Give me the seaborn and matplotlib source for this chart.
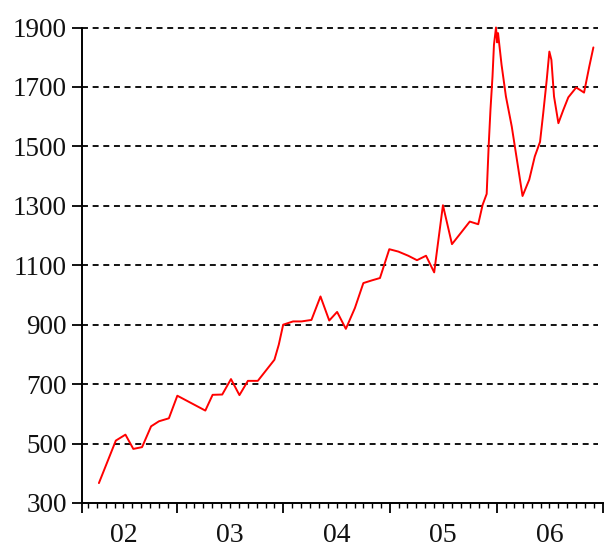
import matplotlib
matplotlib.use("Agg")
import matplotlib.pyplot as plt
import matplotlib.dates as mdates
from matplotlib.ticker import FixedLocator, FuncFormatter, NullFormatter
import seaborn as sns
import pandas as pd

dates = [
    "2002-04-08", "2002-06-05", "2002-07-08", "2002-08-04", "2002-09-03", "2002-10-04",
    "2002-10-31", "2002-12-04", "2003-01-02", "2003-04-08", "2003-05-03", "2003-06-05",
    "2003-07-05", "2003-08-03", "2003-09-01", "2003-10-05", "2003-12-01", "2003-12-16",
    "2003-12-31", "2004-02-03", "2004-03-03", "2004-04-06", "2004-05-07", "2004-06-06",
    "2004-07-03", "2004-08-02", "2004-09-02", "2004-10-01", "2004-10-30", "2004-11-27",
    "2004-12-29", "2005-01-29", "2005-03-04", "2005-04-03", "2005-05-04", "2005-06-01",
    "2005-06-11", "2005-07-01", "2005-08-01", "2005-09-03", "2005-10-01", "2005-10-30",
    "2005-11-14", "2005-11-28", "2005-12-05", "2005-12-11", "2005-12-18", "2005-12-23",
    "2005-12-30", "2006-01-03", "2006-01-06", "2006-01-18", "2006-02-02", "2006-02-22",
    "2006-03-10", "2006-03-31", "2006-04-23", "2006-05-12", "2006-05-30", "2006-06-10",
    "2006-06-22", "2006-07-01", "2006-07-08", "2006-07-17", "2006-08-01", "2006-08-18",
    "2006-09-04", "2006-10-01", "2006-10-14", "2006-10-28", "2006-11-15", "2006-11-29",
]
values = [
    367, 510, 530, 482, 488, 558,
    575, 585, 661, 611, 664, 665,
    717, 663, 711, 711, 782, 833,
    900, 911, 911, 916, 995, 914,
    943, 886, 956, 1040, 1049, 1057,
    1154, 1146, 1132, 1117, 1132, 1076,
    1152, 1302, 1171, 1212, 1247, 1238,
    1303, 1340, 1505, 1623, 1735, 1842,
    1900, 1850, 1881, 1775, 1668, 1567,
    1466, 1333, 1388, 1466, 1515, 1612,
    1724, 1819, 1791, 1668, 1578, 1623,
    1665, 1698, 1690, 1681, 1769, 1833,
]
y_ticks = [300, 500, 700, 900, 1100, 1300, 1500, 1700, 1900]
year_labels = {2002: "02", 2003: "03", 2004: "04", 2005: "05", 2006: "06"}

sns.set_style("ticks")
plt.rcParams['font.family'] = ['Liberation Serif', 'DejaVu Serif']

df = pd.DataFrame({"date": pd.to_datetime(dates), "value": values})

fig = plt.figure(figsize=(6.09, 5.47), dpi=100)
fig.patch.set_facecolor("white")
left, right, bottom, top = 82 / 609, 603 / 609, 1 - 503 / 547, 1 - 27.5 / 547
ax = fig.add_axes([left, bottom, right - left, top - bottom])
ax.set_facecolor("white")

# dashed horizontal grid
for v in y_ticks[1:]:
    ax.axhline(v, xmin=0, xmax=0.99, color="black", lw=1.3,
               ls=(0, (3.3, 2.6)), zorder=1, clip_on=False)

sns.lineplot(data=df, x="date", y="value", ax=ax, color="#ff0000",
             linewidth=1.4, zorder=3, clip_on=False)

x0 = pd.Timestamp("2002-02-09")
x1 = pd.Timestamp("2007-01-01")
ax.set_xlim(x0, x1)
ax.set_ylim(300, 1900)
ax.set_yticks(y_ticks)
ax.set_xlabel("")
ax.set_ylabel("")

# x ticks: major at year boundaries (plus axis start), minor monthly
major_locs = [mdates.date2num(x0)] + [mdates.date2num(pd.Timestamp(f"{y}-01-01")) for y in range(2003, 2008)]
ax.xaxis.set_major_locator(FixedLocator(major_locs))
ax.xaxis.set_major_formatter(NullFormatter())
ax.xaxis.set_minor_locator(mdates.MonthLocator())

def minor_fmt(x, pos):
    d = mdates.num2date(x)
    if d.month == 7 and d.year in year_labels:
        return year_labels[d.year]
    return ""

ax.xaxis.set_minor_formatter(FuncFormatter(minor_fmt))

ax.tick_params(axis="x", which="major", direction="out", length=7, width=1.3, color="black")
ax.tick_params(axis="x", which="minor", direction="out", length=3.5, width=1.0, color="black",
               labelsize=20, pad=11, labelcolor="#111111")
ax.tick_params(axis="y", which="major", direction="out", length=7, width=1.3, color="black",
               labelsize=19.5, pad=4, labelcolor="#111111")

sns.despine(ax=ax, top=True, right=True)
for s in ["left", "bottom"]:
    ax.spines[s].set_color("black")
    ax.spines[s].set_linewidth(1.4)

fig.savefig("out.png", dpi=100, facecolor="white")
